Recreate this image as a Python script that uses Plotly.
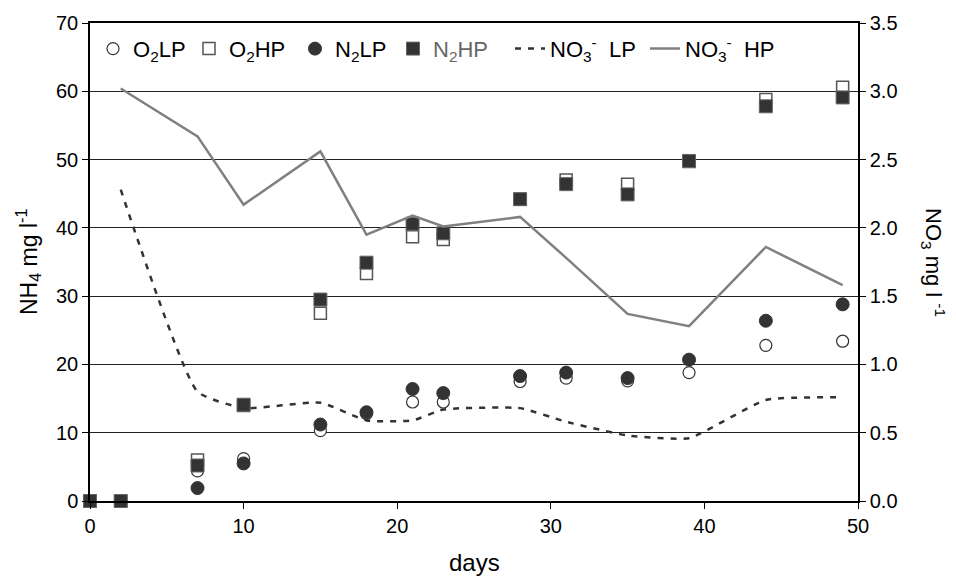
import plotly.graph_objects as go

days = [0, 2, 7, 10, 15, 18, 21, 23, 28, 31, 35, 39, 44, 49]
o2lp = [0, 0, 4.4, 6.2, 10.3, 12.8, 14.5, 14.5, 17.5, 18.0, 17.6, 18.8, 22.8, 23.4]
o2hp = [0, 0, 6.0, 14.0, 27.5, 33.3, 38.7, 38.3, 44.2, 47.0, 46.4, 49.7, 58.8, 60.6]
n2lp = [0, 0, 1.9, 5.5, 11.2, 13.0, 16.4, 15.8, 18.3, 18.8, 18.0, 20.7, 26.4, 28.8]
n2hp = [0, 0, 5.2, 14.1, 29.5, 34.9, 40.6, 39.2, 44.2, 46.4, 44.9, 49.8, 57.8, 59.1]

no3_days = [2, 7, 10, 15, 18, 21, 23, 28, 31, 35, 39, 44, 49]
no3_lp = [2.28, 0.80, 0.68, 0.72, 0.59, 0.59, 0.67, 0.68, 0.58, 0.48, 0.46, 0.74, 0.76]
no3_hp = [3.02, 2.67, 2.17, 2.56, 1.95, 2.09, 2.01, 2.08, 1.78, 1.37, 1.28, 1.86, 1.58]

x_ticks = [0, 10, 20, 30, 40, 50]
y_ticks = [0, 10, 20, 30, 40, 50, 60, 70]
y2_ticks = [0.0, 0.5, 1.0, 1.5, 2.0, 2.5, 3.0, 3.5]

FONT = "Liberation Sans, Arial, sans-serif"
DARK = "#333333"

fig = go.Figure()

fig.add_trace(go.Scatter(x=no3_days, y=no3_lp, yaxis="y2", mode="lines",
                         line=dict(color=DARK, width=2.5, dash="6px,7px", shape="spline", smoothing=0.45),
                         name="NO<sub>3</sub><sup>-</sup>  LP", legend="legend5"))
fig.add_trace(go.Scatter(x=no3_days, y=no3_hp, yaxis="y2", mode="lines",
                         line=dict(color="#808080", width=2.5),
                         name="NO<sub>3</sub><sup>-</sup>  HP", legend="legend6"))

fig.add_trace(go.Scatter(x=days, y=o2lp, mode="markers", name="O<sub>2</sub>LP", cliponaxis=False,
                         marker=dict(symbol="circle", size=12, color="white", line=dict(color=DARK, width=1.2)),
                         legend="legend"))
fig.add_trace(go.Scatter(x=days, y=o2hp, mode="markers", name="O<sub>2</sub>HP", cliponaxis=False,
                         marker=dict(symbol="square", size=12, color="white", line=dict(color="#555555", width=1.5)),
                         legend="legend2"))
fig.add_trace(go.Scatter(x=days, y=n2lp, mode="markers", name="N<sub>2</sub>LP", cliponaxis=False,
                         marker=dict(symbol="circle", size=13, color=DARK, line=dict(color=DARK, width=1)),
                         legend="legend3"))
fig.add_trace(go.Scatter(x=days, y=n2hp, mode="markers", cliponaxis=False,
                         name="<span style='color:#666666'>N<sub>2</sub>HP</span>",
                         marker=dict(symbol="square", size=13, color=DARK, line=dict(color="#666666", width=1)),
                         legend="legend4"))

def px2x(px):
    return (px - 90) / 768.0

leg_common = dict(orientation="h", yanchor="middle", y=0.946, xanchor="left",
                  bgcolor="rgba(0,0,0,0)", font=dict(family=FONT, size=22, color="black"),
                  itemwidth=30, borderwidth=0)

fig.update_layout(
    width=956, height=581,
    margin=dict(l=90, r=98, t=19, b=80),
    paper_bgcolor="white", plot_bgcolor="white",
    font=dict(family=FONT, size=20, color="black"),
    showlegend=True,
    legend=dict(x=px2x(93), **leg_common),
    legend2=dict(x=px2x(189), **leg_common),
    legend3=dict(x=px2x(295), **leg_common),
    legend4=dict(x=px2x(393), **leg_common),
    legend5=dict(x=px2x(510), **leg_common),
    legend6=dict(x=px2x(645), **leg_common),
    xaxis=dict(range=[0, 50], tickvals=x_ticks, ticktext=[str(v) for v in x_ticks],
               showline=True, linecolor="black", linewidth=1.5, mirror=True,
               ticks="outside", ticklen=6, tickcolor="black", showgrid=False, zeroline=False,
               tickfont=dict(size=20)),
    yaxis=dict(range=[0, 70], tickvals=y_ticks, ticktext=[str(v) for v in y_ticks],
               showline=True, linecolor="black", linewidth=1.5,
               ticks="outside", ticklen=6, tickcolor="black",
               showgrid=True, gridcolor="#222222", gridwidth=1.2, zeroline=False,
               tickfont=dict(size=20)),
    yaxis2=dict(range=[0, 3.5], tickvals=y2_ticks, ticktext=[f"{v:.1f}" for v in y2_ticks],
                overlaying="y", side="right", showline=True, linecolor="black", linewidth=1.5,
                ticks="outside", ticklen=6, tickcolor="black", showgrid=False, zeroline=False,
                tickfont=dict(size=20)),
    annotations=[
        dict(text="days", xref="paper", yref="paper", x=0.5, y=(501 - 563) / 482.0,
             xanchor="center", yanchor="middle", showarrow=False, font=dict(size=24)),
        dict(text="NH<sub>4</sub> mg l<sup>-1</sup>", xref="paper", yref="paper",
             x=px2x(28), y=0.5, textangle=-90, xanchor="center", yanchor="middle",
             showarrow=False, font=dict(size=23)),
        dict(text="NO<sub>3</sub> mg l <sup>-1</sup>", xref="paper", yref="paper",
             x=px2x(934), y=0.5, textangle=90, xanchor="center", yanchor="middle",
             showarrow=False, font=dict(size=22)),
    ],
)

fig.write_html("out.html")
